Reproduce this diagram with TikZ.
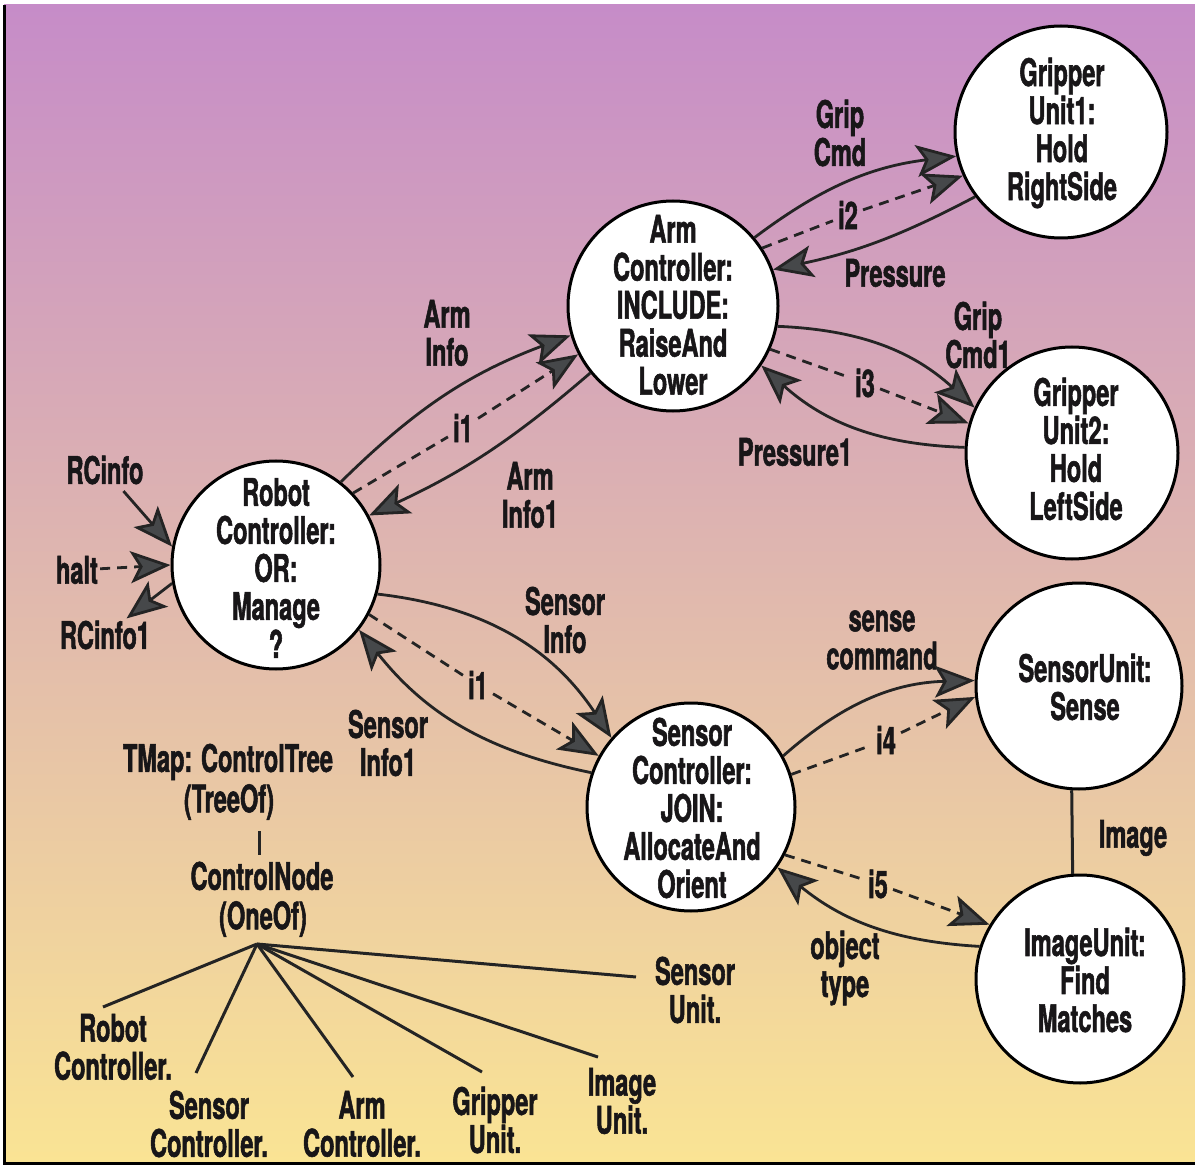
\documentclass[tikz,border=0pt]{standalone}
\usepackage{fontspec}
\setmainfont{TeX Gyre Heros}[FakeStretch=0.62, BoldFeatures={FakeBold=1.4}]
\usetikzlibrary{arrows.meta}

\definecolor{ink}{RGB}{36,36,36}
\definecolor{tipgray}{RGB}{70,72,74}
\definecolor{textc}{RGB}{24,22,24}
\definecolor{bgtop}{RGB}{198,140,200}
\definecolor{bgmid}{RGB}{225,170,168}
\definecolor{bgbot}{RGB}{250,228,148}

\begin{document}
\begin{tikzpicture}[x=1pt,y=1pt,
  every node/.style={font=\fontsize{38}{38}\selectfont\bfseries, text=textc},
  unit/.style={circle, draw=black, line width=3pt, fill=white, minimum size=#1, inner sep=0pt},
  unit/.default=210pt,
  lbl/.style={align=center, inner sep=2pt},
  tag/.style={inner sep=5pt},
  flow/.style={draw=ink, line width=2.8pt, -{Stealth[length=40pt,width=32pt,inset=9pt,fill=tipgray]}},
  dflow/.style={flow, dash pattern=on 10pt off 7pt},
  twig/.style={draw=ink, line width=3pt}
]
% page and shaded panel
\useasboundingbox (0,0) rectangle (1195,-1166);
\fill[white] (0,0) rectangle (1195,-1166);
\shade[top color=bgtop, middle color=bgmid, bottom color=bgbot] (4,-5) rectangle (1195,-1163);
\draw[black, line width=3pt] (4,-5) -- (4,-1164);
\draw[black, line width=3pt] (3,-1163) -- (1195,-1163);

% controller and unit circles
\node[unit=208pt] (rc) at (276,-565) {};
\node[unit=210pt] (arm) at (673,-306) {};
\node[unit=212pt] (g1) at (1061,-132) {};
\node[unit=212pt] (g2) at (1072,-453) {};
\node[unit=208pt] (sc) at (691,-807) {};
\node[unit=206pt] (su) at (1079,-686) {};
\node[unit=208pt] (iu) at (1080,-979) {};

\node[lbl] (rct) at (276,-568) {Robot\\Controller:\\OR:\\Manage\\?};
\node[lbl] (armt) at (673,-305) {Arm\\Controller:\\INCLUDE:\\RaiseAnd\\Lower};
\node[lbl] (g1t) at (1062,-133) {Gripper\\Unit1:\\Hold\\RightSide};
\node[lbl] (g2t) at (1076,-449) {Gripper\\Unit2:\\Hold\\LeftSide};
\node[lbl] (sct) at (692,-808) {Sensor\\Controller:\\JOIN:\\AllocateAnd\\Orient};
\node[lbl] (sut) at (1085,-687) {SensorUnit:\\Sense};
\node[lbl] (iut) at (1085,-980) {ImageUnit:\\Find\\Matches};

% connector labels
\node[lbl] (lArmInfo) at (447,-333) {Arm\\Info};
\node[tag] (li1a) at (463,-428) {i1};
\node[lbl] (lArmInfo1) at (530,-495) {Arm\\Info1};
\node[lbl] (lGripCmd) at (840,-133) {Grip\\Cmd};
\node[tag] (li2) at (848,-215) {i2};
\node[lbl] (lPressure) at (895,-273) {Pressure};
\node[lbl] (lGripCmd1) at (978,-335) {Grip\\Cmd1};
\node[tag] (li3) at (865,-383) {i3};
\node[lbl] (lPressure1) at (795,-452) {Pressure1};
\node[lbl] (lRCinfo) at (105,-470) {RCinfo};
\node[lbl] (lhalt) at (77,-570) {halt};
\node[lbl] (lRCinfo1) at (105,-635) {RCinfo1};
\node[lbl] (lSensorInfo) at (565,-620) {Sensor\\Info};
\node[tag] (li1b) at (478,-685) {i1};
\node[lbl] (lSensorInfo1) at (388,-743) {Sensor\\Info1};
\node[lbl] (lsense) at (882,-640) {sense\\command};
\node[tag] (li4) at (886,-740) {i4};
\node[lbl] (lImage) at (1133,-838) {Image};
\node[tag] (li5) at (878,-884) {i5};
\node[lbl] (lobject) at (845,-968) {object\\type};

% robot controller links
\draw[flow, shorten <=6pt] (lRCinfo) -- (rc.170);
\draw[dflow] (lhalt) -- (rc.180);
\draw[flow] (rc.190) -- (lRCinfo1);

% robot controller <-> arm controller
\draw[flow] (rc.52) to[bend left=12] (arm.196);
\draw[dflow] (rc.43) -- (li1a) -- (arm.207);
\draw[flow] (arm.219) to[bend left=8] (rc.28);

% arm controller <-> gripper units
\draw[flow] (arm.40) to[bend left=15] (g1.193);
\draw[dflow] (arm.33) -- (li2) -- (g1.204);
\draw[flow] (g1.217) to[bend left=8] (arm.20);
\draw[flow] (arm.349) to[bend left=20] (g2.155);
\draw[dflow] (arm.336) -- (li3) -- (g2.164);
\draw[flow] (g2.177) to[bend left=20] (arm.326);

% robot controller <-> sensor controller
\draw[flow] (rc.344) to[bend left=25] (sc.139);
\draw[dflow] (rc.332) -- (li1b) -- (sc.151);
\draw[flow] (sc.161) to[bend left=20] (rc.322);

% sensor controller <-> sensor and image units
\draw[flow] (sc.29) to[bend left=20] (su.177);
\draw[dflow] (sc.18) -- (li4) -- (su.186);
\draw[twig] (su.266) -- (iu.94);
\draw[dflow] (sc.333) -- (li5) -- (iu.149);
\draw[flow] (iu.162) to[bend left=18] (sc.325);

% type map tree
\node[lbl] (tmap) at (228,-762) {TMap: ControlTree};
\node[lbl] (treeof) at (229,-802) {(TreeOf)};
\coordinate (bartop) at (259,-831);
\coordinate (barbot) at (259,-855);
\draw[twig] (bartop) -- (barbot);
\node[lbl] (cnode) at (262,-876) {ControlNode};
\node[lbl] (oneof) at (263,-919) {(OneOf)};
\coordinate (root) at (257,-944);

\node[lbl] (leafrc) at (113,-1047) {Robot\\Controller.};
\node[lbl] (leafsc) at (209,-1124) {Sensor\\Controller.};
\node[lbl] (leafarm) at (362,-1124) {Arm\\Controller.};
\node[lbl] (leafgu) at (495,-1120) {Gripper\\Unit.};
\node[lbl] (leafiu) at (622,-1101) {Image\\Unit.};
\node[lbl] (leafsu) at (695,-990) {Sensor\\Unit.};

\coordinate (erc) at (103,-1007);
\coordinate (esc) at (196,-1073);
\coordinate (earm) at (353,-1077);
\coordinate (egu) at (482,-1072);
\coordinate (eiu) at (598,-1057);
\coordinate (esu) at (636,-977);
\foreach \e in {erc,esc,earm,egu,eiu,esu}
  \draw[twig] (root) -- (\e);
\end{tikzpicture}
\end{document}
